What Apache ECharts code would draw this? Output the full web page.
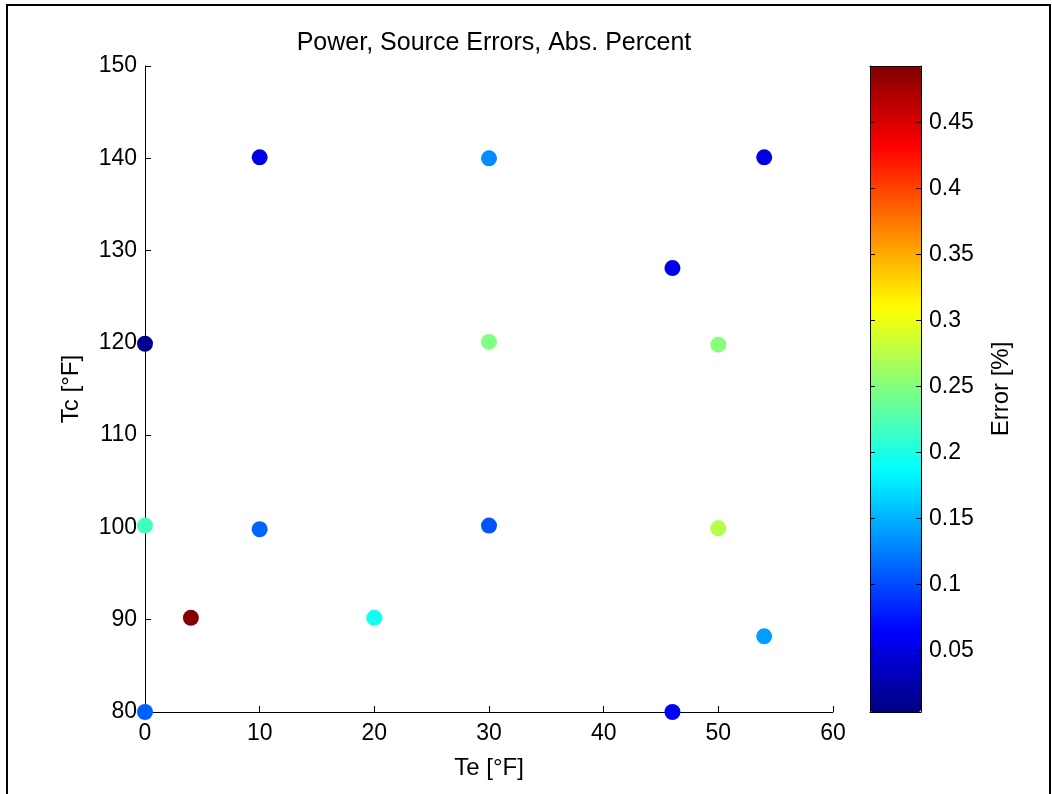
<!DOCTYPE html>
<html>
<head>
<meta charset="utf-8">
<script src="https://cdn.jsdelivr.net/npm/echarts@6/dist/echarts.min.js"></script>
<style>html,body{margin:0;padding:0;background:#fff;}#c{width:1052px;height:794px;}</style>
</head>
<body>
<div id="c"></div>
<script>
// Data
const te  = [0,    0,     0,     4,    10,    10,   20,   30,   30,    30,   46,    46,    50,    50,   54,    54];
const tc  = [80,   100.2, 119.9, 90.2, 140.1, 99.8, 90.2, 140,  120.1, 100.2,128.1, 80,    119.8, 99.9, 140.1, 88.2];
const err = [0.111,0.218, 0.010, 0.490,0.052, 0.112,0.194,0.131,0.248, 0.104,0.053, 0.058, 0.252, 0.273,0.052, 0.140];
const xTicks = [0,10,20,30,40,50,60];
const yTicks = [80,90,100,110,120,130,140,150];
const cbTicks = [0.05,0.1,0.15,0.2,0.25,0.3,0.35,0.4,0.45];
const cbMin = 0.0032, cbMax = 0.4928;
const jet = ['#000080','#0000ff','#0080ff','#00ffff','#80ff80','#ffff00','#ff8000','#ff0000','#800000'];

const points = te.map((x,i)=>[x, tc[i], err[i]]);
const font = 'Liberation Sans, Arial, sans-serif';
const chart = echarts.init(document.getElementById('c'));
chart.setOption({
  animation:false,
  backgroundColor:'#fff',
  title:{text:'Power, Source Errors, Abs. Percent', left:489, textAlign:'center', top:26,
    textStyle:{fontFamily:font, fontSize:25, fontWeight:'normal', color:'#000'}},
  grid:[
    {left:145, top:66, width:688, height:646},
    {left:870, top:66, width:51, height:646}
  ],
  xAxis:[
    {gridIndex:0, type:'value', min:0, max:60, interval:10,
     name:'Te [°F]', nameLocation:'middle', nameGap:44,
     nameTextStyle:{fontFamily:font, fontSize:24, color:'#000'},
     axisLine:{lineStyle:{color:'#000', width:1}},
     axisTick:{inside:true, length:6, lineStyle:{color:'#000'}},
     axisLabel:{fontFamily:font, fontSize:23, color:'#000', margin:10},
     splitLine:{show:false}},
    {gridIndex:1, type:'value', min:0, max:1, position:'bottom', z:10,
     axisLine:{onZero:false, lineStyle:{color:'#000'}}, axisTick:{show:false}, axisLabel:{show:false}, splitLine:{show:false}},
    {gridIndex:1, type:'value', min:0, max:1, position:'top', z:10,
     axisLine:{onZero:false, lineStyle:{color:'#000'}}, axisTick:{show:false}, axisLabel:{show:false}, splitLine:{show:false}}
  ],
  yAxis:[
    {gridIndex:0, type:'value', min:80, max:150, interval:10,
     name:'Tc [°F]', nameLocation:'middle', nameGap:62, nameRotate:90,
     nameTextStyle:{fontFamily:font, fontSize:24, color:'#000'},
     axisLine:{lineStyle:{color:'#000', width:1}},
     axisTick:{inside:true, length:6, lineStyle:{color:'#000'}},
     axisLabel:{fontFamily:font, fontSize:23, color:'#000', margin:8},
     splitLine:{show:false}},
    {gridIndex:1, type:'value', min:cbMin, max:cbMax, position:'right', z:10,
     name:'Error [%]', nameLocation:'middle', nameGap:68, nameRotate:90,
     nameTextStyle:{fontFamily:font, fontSize:24, color:'#000'},
     axisLine:{onZero:false, lineStyle:{color:'#000'}},
     axisTick:{inside:true, length:5, customValues:cbTicks, lineStyle:{color:'#000'}},
     axisLabel:{fontFamily:font, fontSize:23, color:'#000', margin:8, customValues:cbTicks},
     splitLine:{show:false}},
    {gridIndex:1, type:'value', min:cbMin, max:cbMax, position:'left', z:10,
     axisLine:{onZero:false, lineStyle:{color:'#000'}},
     axisTick:{inside:true, length:5, customValues:cbTicks, lineStyle:{color:'#000'}},
     axisLabel:{show:false}, splitLine:{show:false}}
  ],
  visualMap:{
    type:'continuous', min:cbMin, max:cbMax, dimension:2, seriesIndex:0,
    orient:'vertical', left:870, top:66, itemWidth:51, itemHeight:646,
    padding:0, calculable:false, text:null, hoverLink:false,
    inRange:{color:jet}
  },
  series:[
    {type:'scatter', xAxisIndex:0, yAxisIndex:0, data:points, symbolSize:16, clip:false,
     itemStyle:{opacity:1}}
  ],
  graphic:[
    {type:'rect', shape:{x:7, y:5, width:1043, height:830}, style:{fill:'none', stroke:'#000', lineWidth:2}, silent:true}
  ]
});
</script>
</body>
</html>
